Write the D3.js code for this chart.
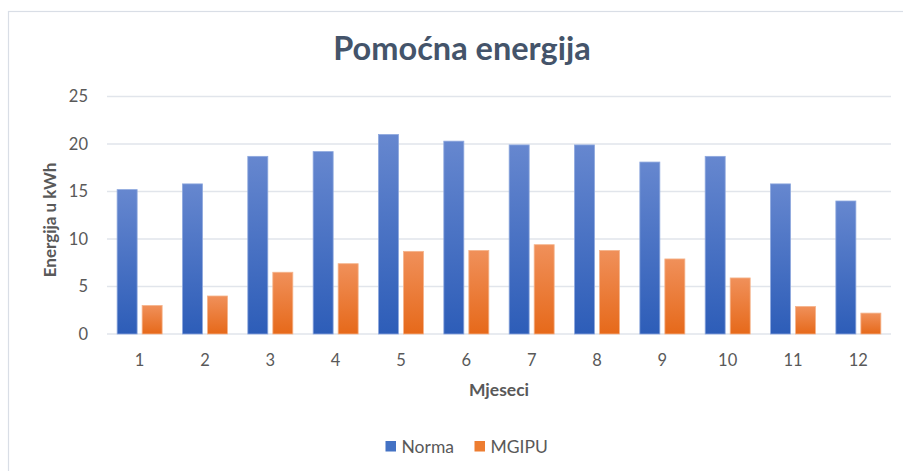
<!DOCTYPE html>
<html><head><meta charset="utf-8">
<script src="https://cdn.jsdelivr.net/npm/d3@7/dist/d3.min.js"></script>
<style>
html,body{margin:0;padding:0;background:#fff;}
svg{display:block;font-family:Lato,"Open Sans",sans-serif;}
</style></head>
<body>
<svg id="chart" width="903" height="471"></svg>
<script>
const months = ["1","2","3","4","5","6","7","8","9","10","11","12"];
const seriesNames = ["Norma","MGIPU"];
const norma = [15.2,15.8,18.7,19.2,21.0,20.3,19.9,19.9,18.1,18.7,15.8,14.0];
const mgipu = [3.0,4.0,6.5,7.4,8.7,8.8,9.4,8.8,7.9,5.9,2.9,2.2];
const yTicks = [0,5,10,15,20,25];
const titleText = "Pomoćna energija";
const yTitle = "Energija u kWh";
const xTitle = "Mjeseci";

(function(){
const svg = d3.select("#chart");
const defs = svg.append("defs");
const grads = [
  {id:"gN", top:"#6687cf", bot:"#2d5db8"},
  {id:"gM", top:"#f0905a", bot:"#e6691a"}
];
grads.forEach(g=>{
  const lg = defs.append("linearGradient").attr("id",g.id).attr("x1",0).attr("y1",0).attr("x2",0).attr("y2",1);
  lg.append("stop").attr("offset","0%").attr("stop-color",g.top);
  lg.append("stop").attr("offset","100%").attr("stop-color",g.bot);
});
const fills = ["url(#gN)","url(#gM)"];
const strokes = ["#8ea8de","#f5b48c"];
const legendColors = ["#4472c4","#ed7d31"];

// chart border
svg.append("rect").attr("x",8.5).attr("y",11.5).attr("width",920).attr("height",480)
  .attr("fill","none").attr("stroke","#d9dee6").attr("stroke-width",1.2);

const mLeft = 107, mRight = 891, mTop = 96.5, mBottom = 334;
const x0 = d3.scaleBand().domain(months).range([mLeft,mRight]).paddingInner(0.311).paddingOuter(0.155);
const x1 = d3.scaleBand().domain(seriesNames).range([0,x0.bandwidth()]).paddingInner(0.2);
const y = d3.scaleLinear().domain([0,25]).range([mBottom,mTop]);

// gridlines
svg.append("g").selectAll("line").data(yTicks).join("line")
  .attr("x1",mLeft).attr("x2",mRight)
  .attr("y1",d=>y(d)).attr("y2",d=>y(d))
  .attr("stroke","#e1e5eb").attr("stroke-width",1.3);

// y axis labels
const yAxis = d3.axisLeft(y).tickValues(yTicks).tickSize(0).tickPadding(0);
const yg = svg.append("g").attr("transform",`translate(${mLeft-19},0)`).call(yAxis);
yg.select(".domain").remove();
yg.selectAll("text").attr("font-size",16.5).attr("fill","#595959").attr("font-family","Lato,sans-serif");

// x axis labels
const xAxis = d3.axisBottom(x0).tickSize(0).tickPadding(0);
const xg = svg.append("g").attr("transform",`translate(0,${mBottom+20})`).call(xAxis);
xg.select(".domain").remove();
xg.selectAll("text").attr("font-size",16.5).attr("fill","#595959").attr("font-family","Lato,sans-serif");

// bars
const data = months.map((m,i)=>({m, vals:[norma[i],mgipu[i]]}));
const groups = svg.append("g").selectAll("g").data(data).join("g")
  .attr("transform",d=>`translate(${x0(d.m)},0)`);
groups.selectAll("rect").data(d=>d.vals.map((v,j)=>({v,j}))).join("rect")
  .attr("x",d=>x1(seriesNames[d.j]))
  .attr("width",x1.bandwidth())
  .attr("y",d=>y(d.v))
  .attr("height",d=>y(0)-y(d.v))
  .attr("fill",d=>fills[d.j])
  .attr("stroke",d=>strokes[d.j]).attr("stroke-width",0.8);

// title
svg.append("text").attr("x",462).attr("y",60).attr("text-anchor","middle")
  .attr("font-size",32.5).attr("font-weight","bold").attr("fill","#44546a").text(titleText);

// y title
svg.append("text").attr("transform",`translate(56,220) rotate(-90)`).attr("text-anchor","middle")
  .attr("font-size",17).attr("font-weight","bold").attr("fill","#595959").text(yTitle);

// x title
svg.append("text").attr("x",(mLeft+mRight)/2).attr("y",396).attr("text-anchor","middle")
  .attr("font-size",17.5).attr("font-weight","bold").attr("fill","#595959").text(xTitle);

// legend
const legX = [385.5, 474.5];
const lg = svg.append("g").selectAll("g").data(seriesNames).join("g")
  .attr("transform",(d,i)=>`translate(${legX[i]},441)`);
lg.append("rect").attr("width",10.5).attr("height",10.5).attr("fill",(d,i)=>legendColors[i]);
lg.append("text").attr("x",16).attr("y",11.5).attr("font-size",17.5).attr("fill","#595959").text(d=>d);
})();
</script>
</body></html>
